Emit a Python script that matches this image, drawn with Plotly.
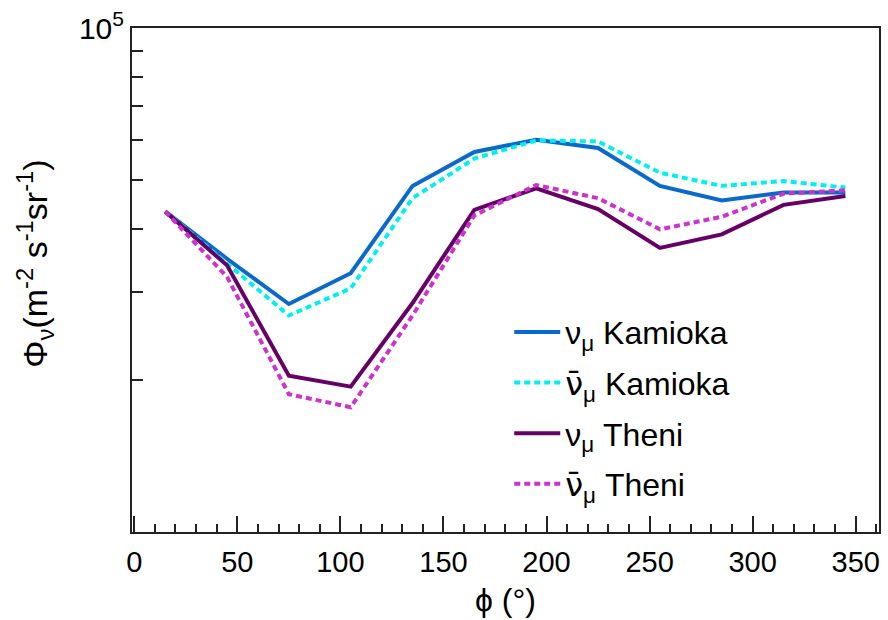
import plotly.graph_objects as go

phi = [15, 45, 75, 105, 135, 165, 195, 225, 255, 285, 315, 345]

numu_kamioka = [43260, 34850, 28340, 32610, 48600, 56770, 60020, 57810, 48620, 45490, 47140, 47140]
numubar_kamioka = [43260, 34070, 26890, 30430, 45950, 55080, 59830, 59560, 51620, 48620, 49690, 48240]
numu_theni = [43260, 33810, 20430, 19430, 28470, 43580, 48080, 43710, 36630, 38960, 44580, 46410]
numubar_theni = [43260, 32080, 18770, 17680, 26890, 42480, 48810, 45950, 39860, 42220, 46920, 47640]

NUBAR = "<span style='font-family:DejaVu Sans'>ν\u0304</span>"
names = ["ν<sub>μ</sub> Kamioka", NUBAR + "<sub>μ</sub> Kamioka", "ν<sub>μ</sub> Theni", NUBAR + "<sub>μ</sub> Theni"]
series = [numu_kamioka, numubar_kamioka, numu_theni, numubar_theni]
colors = ["#0a6acc", "#00f0f0", "#660066", "#cc33cc"]
dashes = ["solid", "6px,4px", "solid", "6px,4px"]

FONT = "Liberation Sans, Arial, sans-serif"

fig = go.Figure()
for i, (nm, ys, c, d) in enumerate(zip(names, series, colors, dashes)):
    fig.add_trace(go.Scatter(x=phi, y=ys, mode="lines", name=nm,
                             line=dict(color=c, width=4, dash=d),
                             legendgroup=f"g{i}"))

fig.update_layout(
    width=888, height=620,
    margin=dict(l=132, r=7, t=23, b=88),
    paper_bgcolor="white", plot_bgcolor="white",
    font=dict(family=FONT, size=28, color="black"),
    showlegend=True,
    legend=dict(x=0.505, y=0.451, xanchor="left", yanchor="top",
                bgcolor="rgba(0,0,0,0)", font=dict(size=32),
                tracegroupgap=6, itemwidth=46),
    xaxis=dict(range=[-1.1, 361.3], showgrid=False, zeroline=False,
               showline=True, linecolor="#222", linewidth=2, mirror=True,
               ticks="inside", ticklen=16, tickcolor="#222", tickwidth=1.5,
               tickvals=[0, 50, 100, 150, 200, 250, 300, 350],
               minor=dict(dtick=10, ticks="inside", ticklen=8, tickcolor="#222", tickwidth=1.5),
               tickfont=dict(size=29), ticklabelstandoff=3),
    yaxis=dict(type="log", range=[4, 5], showgrid=False, zeroline=False,
               showline=True, linecolor="#222", linewidth=2, mirror=True,
               ticks="inside", ticklen=22, tickcolor="#222", tickwidth=1.5,
               tickmode="array", tickvals=[1e5], ticktext=["10<sup>5</sup>"],
               minor=dict(tickmode="array", tickvals=[2e4, 3e4, 4e4, 5e4, 6e4, 7e4, 8e4, 9e4],
                          ticks="inside", ticklen=11, tickcolor="#222", tickwidth=1.5),
               tickfont=dict(size=30)),
)

fig.add_annotation(text="ϕ (°)", xref="paper", yref="paper", x=0.5, y=-0.134,
                   xanchor="center", yanchor="middle", showarrow=False,
                   font=dict(size=32))
fig.add_annotation(text="Φ<sub>ν</sub>(m<sup>-2</sup> s<sup>-1</sup>sr<sup>-1</sup>)",
                   xref="paper", yref="paper", x=-0.1295, y=0.533, textangle=-90,
                   xanchor="center", yanchor="middle", showarrow=False,
                   font=dict(size=34))

fig.write_html("out.html")
